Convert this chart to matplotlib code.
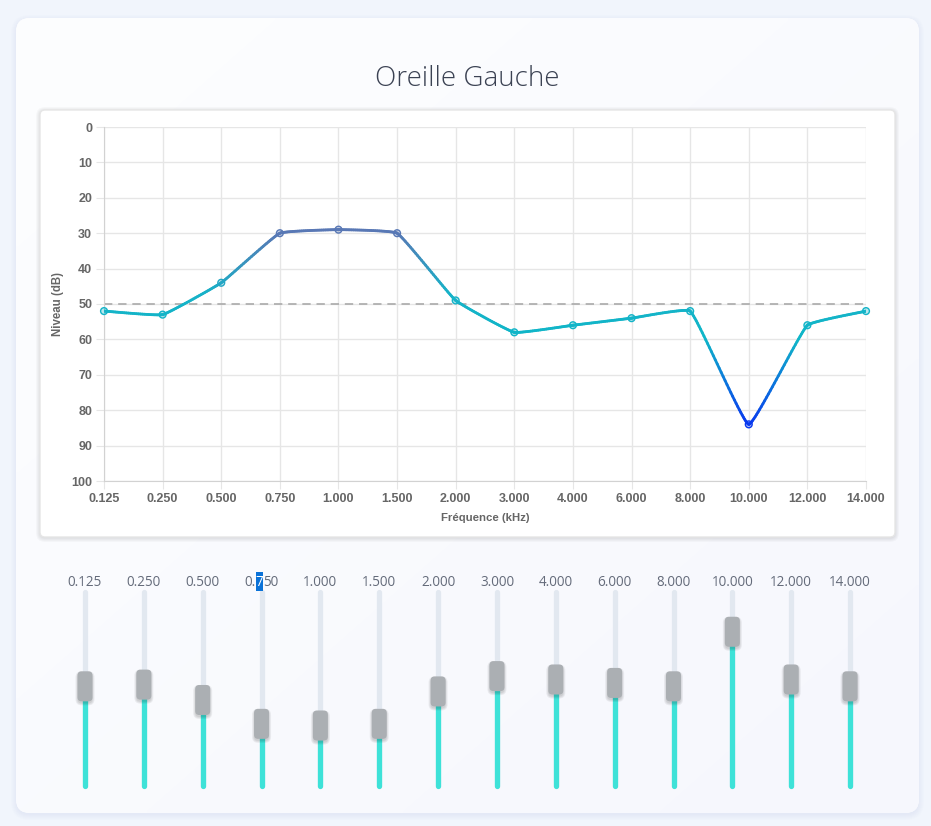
import matplotlib
matplotlib.use("Agg")
import matplotlib.pyplot as plt
import numpy as np
from matplotlib.patches import FancyBboxPatch, Rectangle
from matplotlib.collections import LineCollection
from matplotlib.colors import LinearSegmentedColormap, Normalize, to_rgba

# data
freqs = ["0.125", "0.250", "0.500", "0.750", "1.000", "1.500", "2.000",
         "3.000", "4.000", "6.000", "8.000", "10.000", "12.000", "14.000"]
levels = [52, 53, 44, 30, 29, 30, 49, 58, 56, 54, 52, 84, 56, 52]
threshold = 50
title = "Oreille Gauche"
ylabel = "Niveau (dB)"
xlabel = "Fréquence (kHz)"

W, H = 931, 826
fig = plt.figure(figsize=(W / 100, H / 100), dpi=100)
fig.patch.set_facecolor("#f1f5fc")

# full-figure axes in pixel coordinates for the card, panel and sliders
bg = fig.add_axes([0, 0, 1, 1])
bg.set_xlim(0, W)
bg.set_ylim(H, 0)
bg.axis("off")


def rounded(x, y, w, h, r, **kw):
    p = FancyBboxPatch((x, y), w, h, boxstyle=f"round,pad=0,rounding_size={r}", **kw)
    bg.add_patch(p)
    return p


# card with soft shadow
for k in range(6):
    rounded(16 - k, 18 - k + 2, 903 + 2 * k, 795 + 2 * k, 14 + k,
            facecolor="#c8d2ea", edgecolor="none", alpha=0.05, zorder=1)
card = rounded(16, 18, 903, 795, 14, facecolor="#fcfdff", edgecolor="none", zorder=2)
gx, gy = np.meshgrid(np.linspace(0, 1, 200), np.linspace(0, 1, 200))
g = np.clip((gx + gy) / 2, 0, 1)[..., None]
c0 = np.array(to_rgba("#fdfeff"))
c1 = np.array(to_rgba("#f6f7fd"))
img = bg.imshow(c0 * (1 - g) + c1 * g, extent=(16, 919, 813, 18), zorder=2.5,
                aspect="auto", interpolation="bilinear")
img.set_clip_path(card)

bg.text(467, 79, title, ha="center", va="center", fontsize=20, family="Open Sans",
        fontweight="light", color="#3b4253", zorder=5)

# chart panel
for k in range(5):
    rounded(40 - k, 110 - k + 1, 855 + 2 * k, 427 + 2 * k, 5 + k,
            facecolor="#000000", edgecolor="none", alpha=0.022, zorder=3)
rounded(40, 110, 855, 427, 5, facecolor="white", edgecolor="#e6e6e6", lw=1, zorder=4)

# line chart
ax = fig.add_axes([104 / W, 1 - 481 / H, (866 - 104) / W, (481 - 127) / H])
ax.set_facecolor("none")
x = np.arange(len(freqs))
ax.set_xlim(0, len(freqs) - 1)
ax.set_ylim(100, 0)
ax.set_yticks(range(0, 101, 10))
ax.set_xticks(x)
ax.set_xticklabels(freqs)
ax.grid(True, color="#e6e6e6", lw=1)
ax.set_axisbelow(True)
for s in ["top", "right"]:
    ax.spines[s].set_visible(False)
for s in ["left", "bottom"]:
    ax.spines[s].set_color("#d2d2d2")
ax.tick_params(length=5.5, color="#e6e6e6", pad=3, labelsize=9, labelcolor="#666666")
for lab in ax.get_xticklabels() + ax.get_yticklabels():
    lab.set_family("Liberation Sans")
    lab.set_fontweight("bold")
ax.set_ylabel(ylabel, family="Liberation Sans", fontweight="bold", fontsize=8.3,
              color="#666666", labelpad=5)
ax.set_xlabel(xlabel, family="Liberation Sans", fontweight="bold", fontsize=8.2,
              color="#666666", labelpad=6)
ax.axhline(threshold, color="#aaaaaa", lw=1.2, ls=(0, (5, 3.5)), zorder=2)

cmap = LinearSegmentedColormap.from_list("lvl", [
    (0.0, "#6a6fb0"), (0.30, "#5878b5"), (0.47, "#17b2c8"), (0.60, "#0fb6c8"),
    (0.84, "#0838ef"), (1.0, "#0030f8")])
norm = Normalize(0, 100)

# spline in pixel space (chart.js style), sampled only for drawing
sx, sy = 762 / 13, 354 / 100
px = x * sx
py = np.array(levels, float) * sy
tension = 0.1
cp_in, cp_out = [], []
n = len(px)
for i in range(n):
    pi = np.array([px[max(i - 1, 0)], py[max(i - 1, 0)]])
    ci = np.array([px[i], py[i]])
    ni = np.array([px[min(i + 1, n - 1)], py[min(i + 1, n - 1)]])
    d01 = np.hypot(*(ci - pi))
    d12 = np.hypot(*(ni - ci))
    tot = d01 + d12 if d01 + d12 > 0 else 1
    fa = tension * d01 / tot
    fb = tension * d12 / tot
    cp_in.append(ci - fa * (ni - pi))
    cp_out.append(ci + fb * (ni - pi))
segs, cols = [], []
t = np.linspace(0, 1, 40)[:, None]
for i in range(n - 1):
    p0 = np.array([px[i], py[i]])
    p3 = np.array([px[i + 1], py[i + 1]])
    p1, p2 = cp_out[i], cp_in[i + 1]
    b = ((1 - t) ** 3) * p0 + 3 * ((1 - t) ** 2) * t * p1 + 3 * (1 - t) * t ** 2 * p2 + t ** 3 * p3
    b = b / np.array([sx, sy])
    for j in range(len(b) - 1):
        segs.append(b[j:j + 2])
        cols.append(cmap(norm((b[j, 1] + b[j + 1, 1]) / 2)))
lc = LineCollection(segs, colors=cols, linewidths=2.0, capstyle="round",
                    joinstyle="round", zorder=3)
ax.add_collection(lc)
mc = [cmap(norm(v)) for v in levels]
face = [(c[0], c[1], c[2], 0.3) for c in mc]
ax.scatter(x, levels, s=24, facecolors=face, edgecolors=mc, linewidths=1.0,
           zorder=4, clip_on=False)

# sliders
x0, step = 85, 58.85
top, bottom = 590, 788
lab_y = 582
fs = 9.75
r = fig.canvas.get_renderer()
inv = bg.transData.inverted()
for i, (f, v) in enumerate(zip(freqs, levels)):
    cx = x0 + i * step
    cy = 775 - v * 1.705
    bg.plot([cx, cx], [top + 2, bottom - 2], color="#e2e8f0", lw=3.8,
            solid_capstyle="round", zorder=5)
    bg.plot([cx, cx], [cy, bottom - 2], color="#3ee2d8", lw=3.8,
            solid_capstyle="round", zorder=6)
    for k in range(3):
        rounded(cx - 7.5 - k, cy - 15 - k + 2, 15 + 2 * k, 30 + 2 * k, 4 + k,
                facecolor="#000000", edgecolor="none", alpha=0.06, zorder=6.5)
    rounded(cx - 7.5, cy - 15, 15, 30, 4, facecolor="#abafb3", edgecolor="none", zorder=7)
    if f != "0.750":
        bg.text(cx, lab_y, f, ha="center", va="center", fontsize=fs,
                family="Open Sans", color="#646b7a", zorder=8)
    else:
        # label drawn in pieces, the "7" carries a text selection highlight
        parts = ["0.", "7", "50"]
        tmp = bg.text(0, 0, f, fontsize=fs, family="Open Sans")
        wfull = tmp.get_window_extent(r).width
        widths = []
        for p in parts:
            tmp.set_text(p)
            widths.append(tmp.get_window_extent(r).width)
        tmp.remove()
        left = bg.transData.transform((cx, 0))[0] - wfull / 2
        for p, w in zip(parts, widths):
            lx = inv.transform((left, 0))[0]
            rx = inv.transform((left + w, 0))[0]
            if p == "7":
                bg.add_patch(Rectangle((lx, lab_y - 10), rx - lx, 19, facecolor="#0a72d8",
                                       edgecolor="none", zorder=7.5))
            bg.text(lx, lab_y, p, ha="left", va="center", fontsize=fs, family="Open Sans",
                    color="white" if p == "7" else "#646b7a", zorder=8)
            left += w

fig.savefig("out.png", dpi=100, facecolor=fig.get_facecolor())
